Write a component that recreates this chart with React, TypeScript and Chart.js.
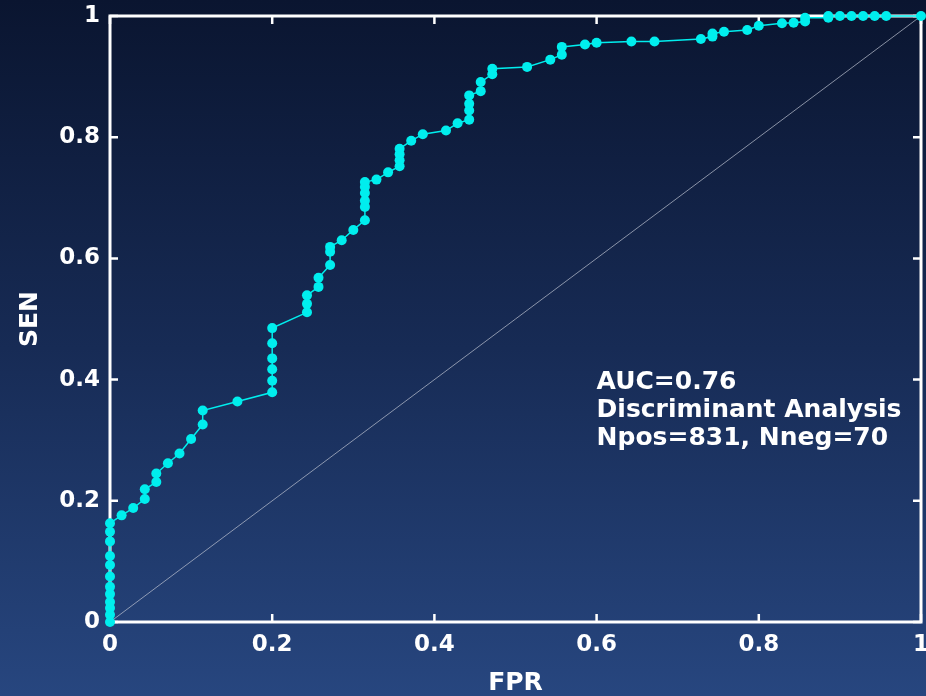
import React, { useEffect, useRef } from 'react';
import { Chart, registerables } from 'chart.js';

Chart.register(...registerables);

// ROC curve points (false positive rate, sensitivity)
const fpr = [
  0, 0, 0, 0, 0, 0, 0, 0, 0, 0, 0, 0,
  0.0143, 0.0286, 0.0429, 0.0429, 0.0571, 0.0571, 0.0714, 0.0857, 0.1, 0.1143, 0.1143,
  0.1571,
  0.2, 0.2, 0.2, 0.2, 0.2, 0.2,
  0.2429, 0.2429, 0.2429, 0.2571, 0.2571,
  0.2714, 0.2714, 0.2714, 0.2857, 0.3,
  0.3143, 0.3143, 0.3143, 0.3143, 0.3143, 0.3143,
  0.3286, 0.3429, 0.3571, 0.3571, 0.3571, 0.3571,
  0.3714, 0.3857, 0.4143, 0.4286,
  0.4429, 0.4429, 0.4429, 0.4429, 0.4571, 0.4571, 0.4714, 0.4714,
  0.5143, 0.5429, 0.5571, 0.5571, 0.5857, 0.6, 0.6429, 0.6714,
  0.7286, 0.7429, 0.7429, 0.7571, 0.7857, 0.8, 0.8286, 0.8429, 0.8571, 0.8571,
  0.8857, 0.8857, 0.9, 0.9143, 0.9286, 0.9429, 0.9571, 1.0,
];
const sen = [
  0, 0.012, 0.023, 0.033, 0.046, 0.058, 0.075, 0.094, 0.109, 0.133, 0.149, 0.163,
  0.176, 0.188, 0.203, 0.219, 0.231, 0.245, 0.262, 0.278, 0.302, 0.326, 0.349,
  0.364,
  0.379, 0.398, 0.417, 0.435, 0.46, 0.485,
  0.511, 0.525, 0.539, 0.553, 0.568,
  0.589, 0.611, 0.619, 0.63, 0.647,
  0.663, 0.685, 0.695, 0.708, 0.718, 0.726,
  0.73, 0.742, 0.752, 0.762, 0.772, 0.781,
  0.794, 0.805, 0.811, 0.823,
  0.829, 0.844, 0.855, 0.869, 0.876, 0.891, 0.904, 0.913,
  0.916, 0.928, 0.936, 0.949, 0.953, 0.956, 0.958, 0.958,
  0.962, 0.966, 0.971, 0.974, 0.977, 0.984, 0.988, 0.989, 0.991, 0.997,
  0.997, 1.0, 1.0, 1.0, 1.0, 1.0, 1.0, 1.0,
];

// chance line
const diagX = [0, 1];
const diagY = [0, 1];

const xTickLabels = ['0', '0.2', '0.4', '0.6', '0.8', '1'];
const yTickLabels = ['0', '0.2', '0.4', '0.6', '0.8', '1'];
const xTitle = 'FPR';
const yTitle = 'SEN';

const annotationLines = ['AUC=0.76', 'Discriminant Analysis', 'Npos=831, Nneg=70'];
const annotationAt = { x: 0.6, y: 0.396 };

const FONT = '"DejaVu Sans", "Liberation Sans", Arial, sans-serif';
const CYAN = '#00eeee';

const framePlugin = {
  id: 'frame',
  beforeDatasetsDraw(chart: any) {
    const { ctx, chartArea: a, scales } = chart;
    ctx.save();
    ctx.strokeStyle = '#ffffff';
    ctx.lineWidth = 3;
    ctx.strokeRect(a.left, a.top, a.right - a.left, a.bottom - a.top);
    ctx.lineWidth = 2.5;
    const tl = 8;
    ctx.beginPath();
    for (const t of scales.x.ticks) {
      const px = scales.x.getPixelForValue(t.value);
      ctx.moveTo(px, a.bottom);
      ctx.lineTo(px, a.bottom - tl);
      ctx.moveTo(px, a.top);
      ctx.lineTo(px, a.top + tl);
    }
    for (const t of scales.y.ticks) {
      const py = scales.y.getPixelForValue(t.value);
      ctx.moveTo(a.left, py);
      ctx.lineTo(a.left + tl, py);
      ctx.moveTo(a.right, py);
      ctx.lineTo(a.right - tl, py);
    }
    ctx.stroke();
    ctx.restore();
  },
  afterDatasetsDraw(chart: any) {
    const { ctx, scales } = chart;
    ctx.save();
    ctx.fillStyle = '#ffffff';
    ctx.font = `bold 25px ${FONT}`;
    ctx.textAlign = 'left';
    ctx.textBaseline = 'middle';
    const x0 = scales.x.getPixelForValue(annotationAt.x);
    const y0 = scales.y.getPixelForValue(annotationAt.y);
    annotationLines.forEach((line, i) => {
      ctx.fillText(line, x0, y0 + i * 28);
    });
    ctx.restore();
  },
};

export default function App() {
  const canvasRef = useRef<HTMLCanvasElement | null>(null);

  useEffect(() => {
    if (!canvasRef.current) return;
    const tickFont = { family: FONT, size: 23, weight: 'bold' as const };
    const titleFont = { family: FONT, size: 25, weight: 'bold' as const, lineHeight: 1 };
    const chart = new Chart(canvasRef.current, {
      type: 'scatter',
      data: {
        datasets: [
          {
            data: fpr.map((x, i) => ({ x, y: sen[i] })),
            showLine: true,
            borderColor: CYAN,
            borderWidth: 1.5,
            backgroundColor: CYAN,
            pointRadius: 5,
            pointBorderWidth: 0,
            pointBackgroundColor: CYAN,
            clip: false as any,
          },
          {
            data: diagX.map((x, i) => ({ x, y: diagY[i] })),
            showLine: true,
            borderColor: 'rgba(190,195,210,0.7)',
            borderWidth: 1,
            pointRadius: 0,
          },
        ],
      },
      options: {
        animation: false,
        responsive: true,
        maintainAspectRatio: false,
        layout: { padding: { top: 16, right: 4, bottom: 0, left: 0 } },
        plugins: { legend: { display: false }, tooltip: { enabled: false } },
        scales: {
          x: {
            type: 'linear',
            min: 0,
            max: 1,
            grid: { display: false, drawTicks: false },
            border: { display: false },
            ticks: {
              stepSize: 0.2,
              autoSkip: false,
              maxRotation: 0,
              padding: 9,
              color: '#ffffff',
              font: tickFont,
              callback: (_v: any, i: number) => xTickLabels[i],
            },
            title: {
              display: true,
              text: xTitle,
              color: '#ffffff',
              font: titleFont,
              padding: { top: 0, bottom: 0 },
            },
            afterFit: (s: any) => {
              s.height = 74;
              s.paddingLeft = 0;
              s.paddingRight = 0;
            },
          },
          y: {
            type: 'linear',
            min: 0,
            max: 1,
            grid: { display: false, drawTicks: false },
            border: { display: false },
            ticks: {
              stepSize: 0.2,
              autoSkip: false,
              padding: 10,
              color: '#ffffff',
              font: tickFont,
              callback: (_v: any, i: number) => yTickLabels[i],
            },
            title: {
              display: true,
              text: yTitle,
              color: '#ffffff',
              font: titleFont,
              padding: { top: 18, bottom: 0 },
            },
            afterFit: (s: any) => {
              s.width = 110;
              s.paddingTop = 0;
              s.paddingBottom = 0;
            },
          },
        },
      },
      plugins: [framePlugin],
    });
    return () => chart.destroy();
  }, []);

  return (
    <div
      style={{
        position: 'fixed',
        left: 0,
        top: 0,
        width: 926,
        height: 696,
        background: 'linear-gradient(180deg, #0a1530 0%, #172b55 50%, #27467f 100%)',
      }}
    >
      <canvas ref={canvasRef} />
    </div>
  );
}
